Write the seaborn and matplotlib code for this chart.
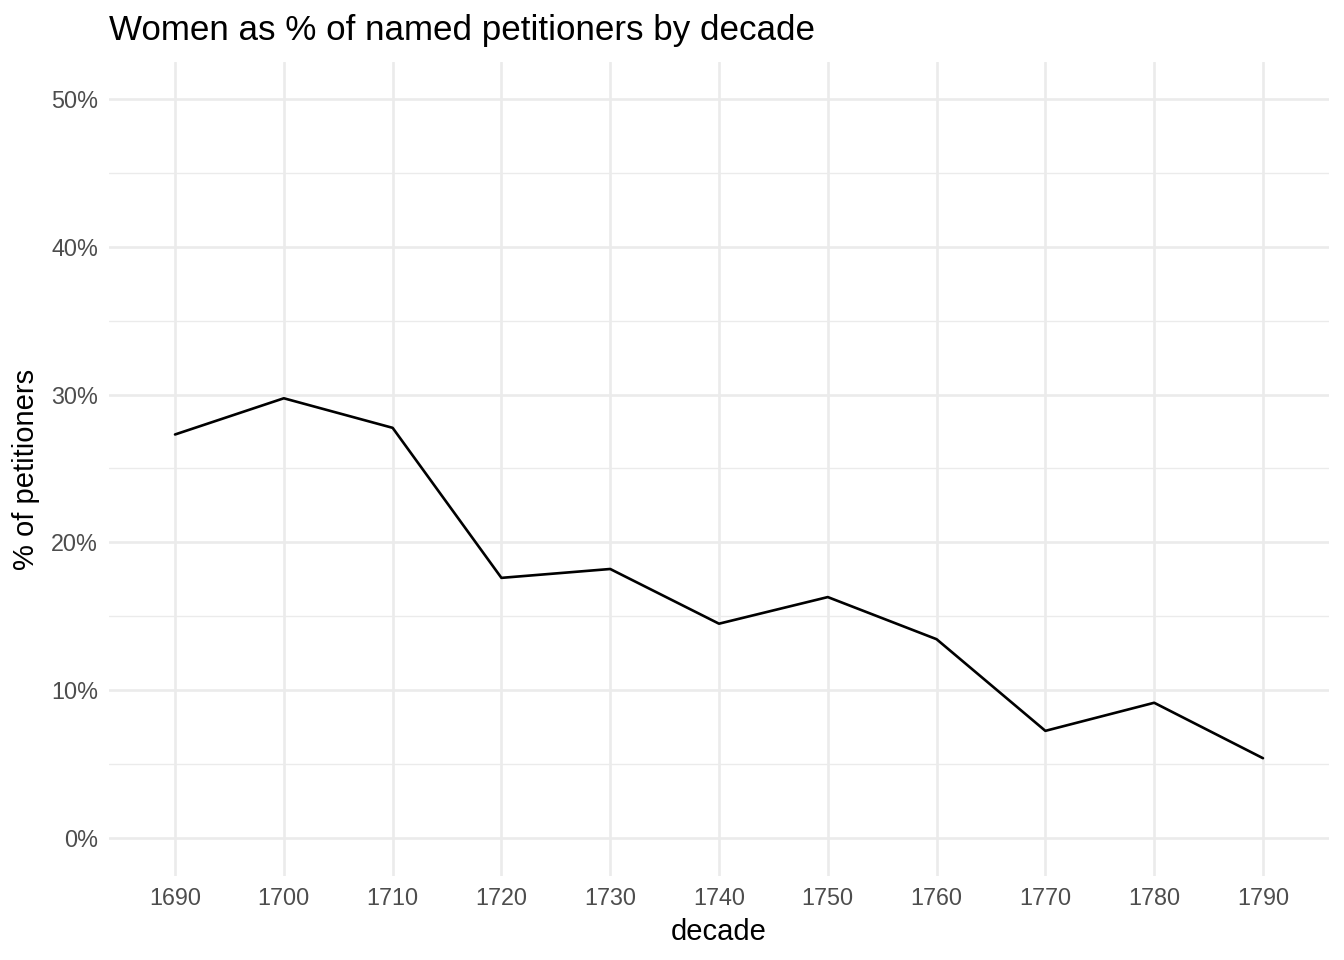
import matplotlib
matplotlib.use("Agg")
import matplotlib.pyplot as plt
import seaborn as sns
import pandas as pd
from matplotlib.ticker import FuncFormatter, MultipleLocator

decades = [1690, 1700, 1710, 1720, 1730, 1740, 1750, 1760, 1770, 1780, 1790]
pct_women = [27.3, 29.75, 27.75, 17.6, 18.2, 14.5, 16.3, 13.45, 7.25, 9.15, 5.4]

df = pd.DataFrame({"decade": decades, "pct": pct_women})

sns.set_theme(style="white")
plt.rcParams["font.family"] = ["Liberation Sans", "DejaVu Sans"]

fig = plt.figure(figsize=(13.44, 9.6), dpi=100)
W, H = 1344, 960
left, right, top, bottom = 109, 1329, 62, 876
ax = fig.add_axes([left / W, 1 - bottom / H, (right - left) / W, (bottom - top) / H])

sns.lineplot(data=df, x="decade", y="pct", ax=ax, color="black", linewidth=1.9)

ax.set_xlim(1683.93, 1796.07)
ax.set_ylim(-2.57, 52.5)
ax.set_xticks(decades)
ax.set_xticklabels([str(d) for d in decades])
ax.set_yticks([0, 10, 20, 30, 40, 50])
ax.yaxis.set_major_formatter(FuncFormatter(lambda v, p: f"{int(round(v))}%"))
ax.yaxis.set_minor_locator(MultipleLocator(5))

ax.grid(which="major", axis="both", color="#EBEBEB", linewidth=1.9)
ax.grid(which="minor", axis="y", color="#EBEBEB", linewidth=0.95)
ax.set_axisbelow(True)
for s in ax.spines.values():
    s.set_visible(False)
ax.tick_params(axis="both", which="both", length=0, labelsize=16.8, labelcolor="#4D4D4D")
ax.tick_params(axis="x", pad=8)
ax.tick_params(axis="y", pad=8)

ax.set_xlabel("decade", fontsize=21, color="black", labelpad=6)
ax.set_ylabel("% of petitioners", fontsize=21, color="black", labelpad=8)
fig.text(left / W, 1 - 40 / H, "Women as % of named petitioners by decade",
         fontsize=25.2, color="black", ha="left", va="baseline")

fig.savefig("out.png", dpi=100, facecolor="white")
